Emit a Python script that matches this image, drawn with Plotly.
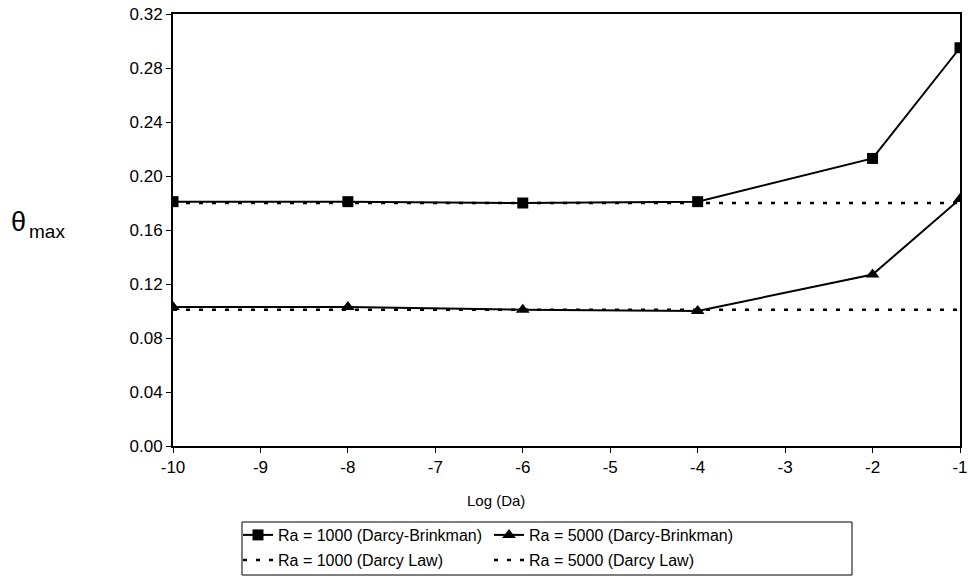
import plotly.graph_objects as go

log_da = [-10, -8, -6, -4, -2, -1]
ra1000_db = [0.181, 0.181, 0.180, 0.181, 0.213, 0.295]
ra5000_db = [0.103, 0.103, 0.101, 0.100, 0.127, 0.183]
ra1000_darcy = [0.180, 0.180, 0.180, 0.180, 0.180, 0.180]
ra5000_darcy = [0.101, 0.101, 0.101, 0.101, 0.101, 0.101]

x_ticks = [-10, -9, -8, -7, -6, -5, -4, -3, -2, -1]
y_ticks = [0.00, 0.04, 0.08, 0.12, 0.16, 0.20, 0.24, 0.28, 0.32]

FONT = "Arial, Liberation Sans, sans-serif"

fig = go.Figure()
fig.add_trace(go.Scatter(x=log_da, y=ra1000_darcy, mode="lines", name="Ra = 1000 (Darcy Law)",
                         line=dict(color="black", width=2.5, dash="4px,9px"), legend="legend2"))
fig.add_trace(go.Scatter(x=log_da, y=ra5000_darcy, mode="lines", name="Ra = 5000 (Darcy Law)",
                         line=dict(color="black", width=2.5, dash="4px,9px"), legend="legend2"))
fig.add_trace(go.Scatter(x=log_da, y=ra1000_db, mode="lines+markers", name="Ra = 1000 (Darcy-Brinkman)",
                         line=dict(color="black", width=2),
                         marker=dict(symbol="square", size=11, color="black"), legend="legend"))
fig.add_trace(go.Scatter(x=log_da, y=ra5000_db, mode="lines+markers", name="Ra = 5000 (Darcy-Brinkman)",
                         line=dict(color="black", width=2),
                         marker=dict(symbol="triangle-up", size=12, color="black"), legend="legend"))

L, R, T, B = 173, 10, 14, 131
W, H = 970, 577
pw = W - L - R
ph = H - T - B

def px_x(p):
    return (p - L) / pw

def px_y(p):
    return (H - B - p) / ph

def cx(p):
    return p / W

def cy(p):
    return 1 - p / H

fig.update_layout(
    width=W, height=H,
    margin=dict(l=L, r=R, t=T, b=B, autoexpand=False),
    paper_bgcolor="white", plot_bgcolor="white",
    font=dict(family=FONT, size=16, color="black"),
    showlegend=True,
    legend=dict(orientation="h", xref="container", yref="container",
                x=cx(238), y=cy(535), xanchor="left", yanchor="middle",
                entrywidth=206, traceorder="normal", font=dict(size=16),
                bgcolor="rgba(0,0,0,0)", borderwidth=0, itemwidth=30),
    legend2=dict(orientation="h", xref="container", yref="container",
                 x=cx(238), y=cy(560), xanchor="left", yanchor="middle",
                 entrywidth=206, traceorder="normal", font=dict(size=16),
                 bgcolor="rgba(0,0,0,0)", borderwidth=0, itemwidth=30),
    xaxis=dict(range=[-10, -1], tickvals=x_ticks, ticktext=[str(v) for v in x_ticks],
               showgrid=False, zeroline=False, showline=True, linecolor="black", linewidth=2,
               mirror=True, ticks="outside", ticklen=5, tickcolor="black", tickwidth=1,
               tickfont=dict(size=17), automargin=False),
    yaxis=dict(range=[0, 0.32], tickvals=y_ticks, ticktext=[f"{v:.2f}" for v in y_ticks],
               showgrid=False, zeroline=False, showline=True, linecolor="black", linewidth=2,
               mirror=True, ticks="outside", ticklen=5, tickcolor="black", tickwidth=1,
               tickfont=dict(size=17), automargin=False),
    shapes=[dict(type="rect", xref="paper", yref="paper",
                 x0=px_x(242), x1=px_x(852), y0=px_y(575), y1=px_y(522),
                 line=dict(color="black", width=1), fillcolor="rgba(0,0,0,0)")],
    annotations=[
        dict(text="Log (Da)", xref="paper", yref="paper", x=px_x(496), y=px_y(500),
             showarrow=False, font=dict(size=15), xanchor="center", yanchor="middle"),
        dict(text="θ", xref="paper", yref="paper", x=px_x(9), y=px_y(222),
             showarrow=False, font=dict(size=27), xanchor="left", yanchor="middle"),
        dict(text="max", xref="paper", yref="paper", x=px_x(27), y=px_y(231),
             showarrow=False, font=dict(size=19), xanchor="left", yanchor="middle"),
    ],
)

fig.write_html("out.html")
